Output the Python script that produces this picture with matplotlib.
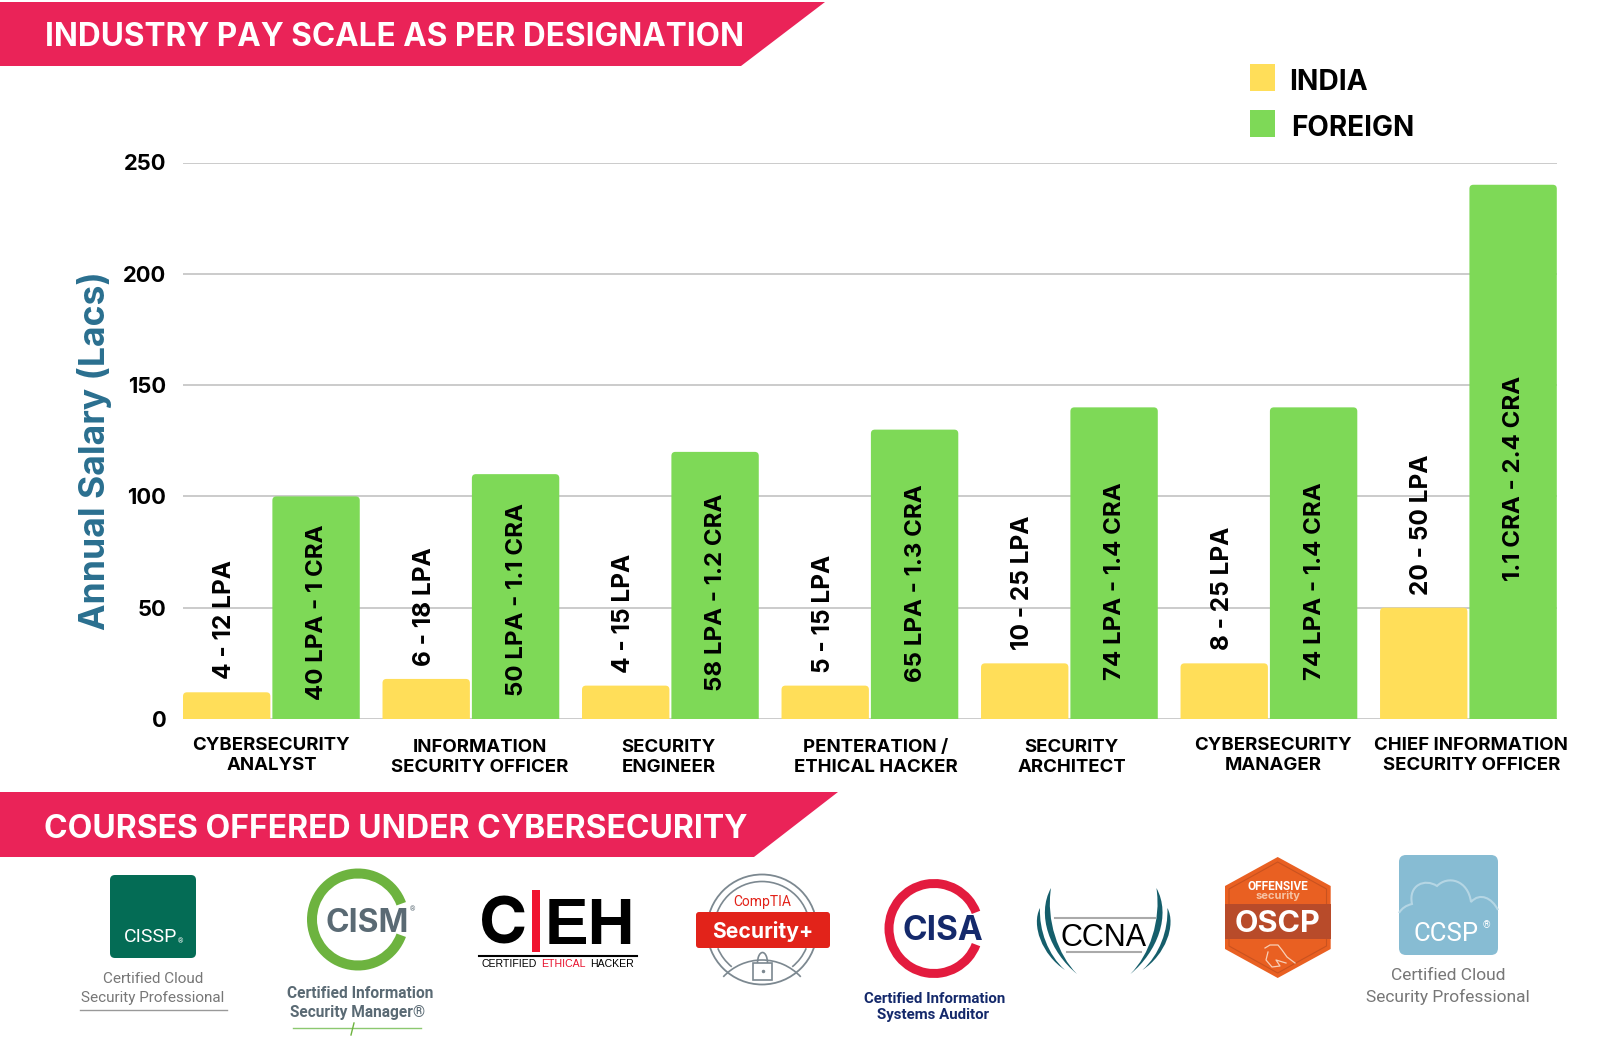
import matplotlib
matplotlib.use("Agg")
import matplotlib.pyplot as plt
from matplotlib.patches import Rectangle, Polygon, Circle, Wedge, FancyBboxPatch, PathPatch, Arc
from matplotlib.path import Path

plt.rcParams['font.family'] = ['Inter', 'DejaVu Sans']

categories = ["CYBERSECURITY\nANALYST", "INFORMATION\nSECURITY OFFICER", "SECURITY\nENGINEER",
              "PENTERATION /\nETHICAL HACKER", "SECURITY\nARCHITECT", "CYBERSECURITY\nMANAGER",
              "CHIEF INFORMATION\nSECURITY OFFICER"]
india = [12, 18, 15, 15, 25, 25, 50]
foreign = [100, 110, 120, 130, 140, 140, 240]
india_labels = ["4 - 12 LPA", "6 - 18 LPA", "4 - 15 LPA", "5 - 15 LPA", "10 - 25 LPA", "8 - 25 LPA", "20 - 50 LPA"]
foreign_labels = ["40 LPA - 1 CRA", "50 LPA - 1.1 CRA", "58 LPA - 1.2 CRA", "65 LPA - 1.3 CRA",
                  "74 LPA - 1.4 CRA", "74 LPA - 1.4 CRA", "1.1 CRA - 2.4 CRA"]
yticks = [0, 50, 100, 150, 200, 250]

# where the labels sit
foreign_label_mid = [48, 53.5, 57, 61, 62, 62, 108]
cat_shift = [0, 9, -2, 6, 2, 4, 3]
cat_drop = [18, 20, 20, 20, 20, 18, 18]

YELLOW = "#FFDE59"
GREEN = "#7ED957"
PINK = "#EA2358"
TEAL = "#2A6F8F"

fig = plt.figure(figsize=(16.12, 10.56), dpi=100)

# chart area in pixels: x 183-1557, y 162-719
ax = fig.add_axes([183 / 1612, 1 - 719 / 1056, (1557 - 183) / 1612, (719 - 162.5) / 1056])
x = list(range(len(categories)))
bw = 0.438
off = 0.224
xlim = (-0.443, 6.444)
ax.set_xlim(*xlim)
ax.set_ylim(0, 250)
aspect = (250 / 556.5) / ((xlim[1] - xlim[0]) / 1374)


def roundbars(positions, values, color):
    # bars with soft corners, the bottom ones hang below the axis and get clipped
    bars = ax.bar(positions, values, bw, color=color)
    for rect in bars:
        rect.set_visible(False)
        ax.add_patch(FancyBboxPatch((rect.get_x(), -10), rect.get_width(), rect.get_height() + 10,
                                    boxstyle="round,pad=0,rounding_size=0.02", mutation_aspect=aspect,
                                    fc=color, lw=0, zorder=3))


roundbars([i - off for i in x], india, YELLOW)
roundbars([i + off for i in x], foreign, GREEN)
ax.set_xlim(*xlim)
ax.set_ylim(0, 250)
ax.set_yticks(yticks)
ax.set_xticks([])
ax.grid(axis='y', color='#C2C2C2', linewidth=1.2, zorder=0)
ax.set_axisbelow(True)
for s in ax.spines.values():
    s.set_visible(False)
ax.tick_params(axis='y', length=0, pad=12)
for lab in ax.get_yticklabels():
    lab.set_fontsize(15.8)
    lab.set_fontweight('bold')
ax.set_ylabel("Annual Salary (Lacs)", fontsize=25.6, fontweight='bold', color=TEAL)
ax.yaxis.set_label_coords(-0.052, 0.483)

for i in x:
    ax.annotate(india_labels[i], (i - off, india[i]), xytext=(-2, 13), textcoords='offset pixels',
                rotation=90, ha='center', va='bottom', fontsize=17.6, fontweight='bold', zorder=4)
    ax.annotate(foreign_labels[i], (i + off, foreign_label_mid[i]), xytext=(1, 0), textcoords='offset pixels',
                rotation=90, ha='center', va='center', fontsize=17.3, fontweight='bold', zorder=4)
    ax.annotate(categories[i], (i, 0), xytext=(cat_shift[i], -cat_drop[i]), textcoords='offset pixels',
                ha='center', va='top', fontsize=13.4, fontweight='bold', linespacing=1.2, annotation_clip=False)

# overlay in image pixels for banners, legend and the badges
ov = fig.add_axes([0, 0, 1, 1], facecolor='none')
ov.set_xlim(0, 1612)
ov.set_ylim(1056, 0)
ov.axis('off')

ov.add_patch(Polygon([(0, 2), (825, 2), (741, 66), (0, 66)], color=PINK, lw=0))
ov.text(45, 38, "INDUSTRY PAY SCALE AS PER DESIGNATION", color='white', fontsize=22.7, fontweight='bold', va='center')
ov.add_patch(Polygon([(0, 792), (838, 792), (754, 857), (0, 857)], color=PINK, lw=0))
ov.text(44, 829, "COURSES OFFERED UNDER CYBERSECURITY", color='white', fontsize=23, fontweight='bold', va='center')

ov.add_patch(Rectangle((1250, 64), 25, 27, color=YELLOW, lw=0))
ov.add_patch(Rectangle((1250, 110), 25, 27, color=GREEN, lw=0))
ov.text(1289, 82.5, "INDIA", fontsize=20.3, fontweight='bold', va='center')
ov.text(1291, 128.5, "FOREIGN", fontsize=20.1, fontweight='bold', va='center')

NARROW = ['Roboto', 'DejaVu Sans']
ARIAL = ['Liberation Sans', 'DejaVu Sans']

# CISSP
ov.add_patch(FancyBboxPatch((113, 878), 80, 77, boxstyle="round,pad=3,rounding_size=5", color="#046C55", lw=0))
ov.text(151, 937, "CISSP", color='white', fontsize=14, family=NARROW, ha='center', va='center')
ov.text(180, 942, "\u00ae", color='white', fontsize=5, family=NARROW, ha='center', va='center')
ov.text(153, 979, "Certified Cloud", color='#777777', fontsize=11, family=NARROW, ha='center', va='center')
ov.text(153, 998, "Security Professional", color='#777777', fontsize=11, family=NARROW, ha='center', va='center')
ov.plot([80, 227], [1010, 1010], color='#999999', lw=1)

# CISM
ov.add_patch(Wedge((358, 919.5), 51, 20, 340, width=10, color="#6DB33F", lw=0))
ov.text(367, 923, "CISM", color='#5A6A74', fontsize=23, fontweight='bold', ha='center', va='center')
ov.text(412, 910, "\u00ae", color='#5A6A74', fontsize=5, family=NARROW, ha='center', va='center')
ov.text(360, 994, "Certified Information", color='#5A6A74', fontsize=11.2, family=NARROW, fontweight='bold', ha='center', va='center')
ov.text(358, 1013, "Security Manager\u00ae", color='#5A6A74', fontsize=11.2, family=NARROW, fontweight='bold', ha='center', va='center')
ov.plot([293, 421], [1028, 1028], color='#8CC870', lw=1)
ov.plot([354, 351], [1023, 1035], color='#6DB33F', lw=1)

# CEH
ov.text(503, 927, "C", fontsize=47, fontweight='bold', ha='center', va='center')
ov.add_patch(Rectangle((532, 890), 8, 62, color="#F0142F", lw=0))
ov.text(590, 927, "EH", fontsize=47, fontweight='bold', ha='center', va='center', family=ARIAL)
ov.plot([479, 637], [956, 956], color='black', lw=1.5)
ov.text(481, 964, "CERTIFIED", fontsize=7.6, va='center', family=ARIAL)
ov.text(541, 964, "ETHICAL", fontsize=7.6, va='center', color="#E8112D", family=ARIAL)
ov.text(590, 964, "HACKER", fontsize=7.6, va='center', family=ARIAL)

# CompTIA Security+
GREY = '#7C8890'
ov.add_patch(Circle((762, 929.5), 55, fill=False, ec=GREY, lw=1.3))
ov.add_patch(Arc((762, 929.5), 96, 96, theta1=180, theta2=360, ec=GREY, lw=1.2))
ov.add_patch(Arc((762, 929.5), 96, 96, theta1=23, theta2=51, ec=GREY, lw=1.2))
ov.add_patch(Arc((762, 929.5), 96, 96, theta1=129, theta2=157, ec=GREY, lw=1.2))
ov.add_patch(Arc((762, 1013), 106, 106, theta1=223, theta2=317, ec=GREY, lw=1.2))
ov.add_patch(FancyBboxPatch((698, 914), 130, 32, boxstyle="round,pad=2,rounding_size=3", color="#E2231A", lw=0))
ov.text(762, 902, "CompTIA", color="#E2231A", fontsize=10, ha='center', va='center', family=NARROW)
ov.text(763, 932, "Security+", color='white', fontsize=15.2, fontweight='bold', ha='center', va='center')
ov.add_patch(Rectangle((753, 963), 19, 17, fc='white', ec=GREY, lw=1.2, zorder=3))
ov.add_patch(Arc((762.5, 963), 10, 21, theta1=180, theta2=360, ec=GREY, lw=1.2))
ov.plot([762.5], [971], marker='o', ms=1.5, color=GREY, zorder=4)

# CISA
ov.add_patch(Wedge((934, 928.5), 49.5, 21, 339, width=9, color="#E31B3E", lw=0))
ov.text(943, 931, "CISA", color="#14296B", fontsize=24, fontweight='bold', ha='center', va='center')
ov.text(935, 999, "Certified Information", color="#14296B", fontsize=10.8, family=NARROW, fontweight='bold', ha='center', va='center')
ov.text(933, 1015, "Systems Auditor", color="#14296B", fontsize=10.8, family=NARROW, fontweight='bold', ha='center', va='center')

# CCNA
ov.plot([1055, 1155], [918, 918], color='#AAAAAA', lw=1.5)
ov.plot([1067, 1141], [952, 952], color='#AAAAAA', lw=1.5)
ov.text(1104, 938, "CCNA", fontsize=22, ha='center', va='center', family=ARIAL)
swoosh_codes = [Path.MOVETO] + [Path.CURVE4] * 6
for sx in (1, -1):
    xx = lambda v: 1103.7 + sx * (v - 1103.7)
    ov.add_patch(PathPatch(Path([(xx(1051), 888), (xx(1036), 915), (xx(1050), 952), (xx(1077), 974),
                                 (xx(1058), 955), (xx(1046), 920), (xx(1051), 888)], swoosh_codes),
                           fc="#155E6B", lw=0))
    ov.add_patch(PathPatch(Path([(xx(1040), 908), (xx(1031), 925), (xx(1042), 955), (xx(1065), 970),
                                 (xx(1048), 955), (xx(1039), 930), (xx(1040), 908)], swoosh_codes),
                           fc="#155E6B", lw=0))

# OSCP
hexagon = [(1277.7, 857), (1330.7, 886), (1330.7, 949), (1277.7, 978), (1225, 949), (1225, 886)]
inner_hex = [(1277.7, 862), (1326.5, 889), (1326.5, 946), (1277.7, 973), (1229, 946), (1229, 889)]
ov.add_patch(Polygon(hexagon, color="#E96022", lw=0))
ov.add_patch(Polygon(inner_hex, fill=False, ec="#C9521F", lw=0.8))
ov.add_patch(Rectangle((1225, 904), 105.7, 35, color="#B84B2A", lw=0))
ov.text(1277.7, 924, "OSCP", color='white', fontsize=22, fontweight='bold', ha='center', va='center')
ov.text(1278, 887, "OFFENSIVE", color='white', fontsize=8.5, fontweight='bold', ha='center', va='center', family=NARROW)
ov.text(1278, 896, "security", color='#F6C3A4', fontsize=8, fontweight='bold', ha='center', va='center')
ov.plot([1265, 1270, 1278, 1282, 1287, 1295], [948, 945, 945, 950, 957, 963], color='#F8D0B8', lw=0.9)
ov.plot([1268, 1266, 1272, 1280, 1276, 1286], [952, 960, 967, 966, 960, 963], color='#F8D0B8', lw=0.9)

# CCSP
ov.add_patch(FancyBboxPatch((1403, 859), 91, 92, boxstyle="round,pad=4,rounding_size=7", color="#87BCD3", lw=0))
cloud = Path([(1399, 913), (1403, 906), (1412, 904),
              (1408, 885), (1425, 878), (1437, 886),
              (1448, 875), (1468, 880), (1471, 902),
              (1480, 892), (1492, 898), (1498, 910)],
             [Path.MOVETO, Path.CURVE3, Path.CURVE3,
              Path.CURVE4, Path.CURVE4, Path.CURVE4,
              Path.CURVE4, Path.CURVE4, Path.CURVE4,
              Path.CURVE4, Path.CURVE4, Path.CURVE4])
ov.add_patch(PathPatch(cloud, fill=False, ec='#B5D6E4', lw=1.5))
ov.text(1446, 934, "CCSP", color='white', fontsize=18.5, ha='center', va='center', family=NARROW)
ov.text(1486, 925, "\u00ae", color='white', fontsize=7, ha='center', va='center', family=NARROW)
ov.text(1448, 976, "Certified Cloud", color='#777777', fontsize=12.5, family=NARROW, ha='center', va='center')
ov.text(1448, 997, "Security Professional", color='#777777', fontsize=12.5, family=NARROW, ha='center', va='center')

fig.savefig("out.png", dpi=100)
